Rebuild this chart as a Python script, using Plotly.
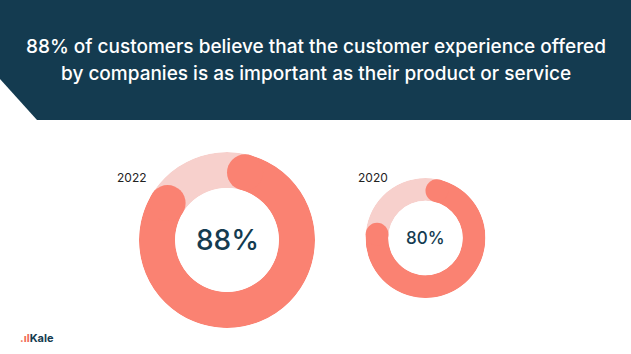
import math
import plotly.graph_objects as go

# ---- data ----
years = ["2022", "2020"]
values = [88, 80]
center_labels = ["88%", "80%"]
title_lines = ["88% of customers believe that the customer experience offered",
               "by companies is as important as their product or service"]

W, H = 631, 354
NAVY = "#143B50"
SALMON = "#FA8272"
LIGHT = "#F7D0CC"

# donut layout: (cx, cy, R, hole) in pixels
donuts = [(227, 240, 88, 0.59), (425.5, 238, 60, 0.62)]
label_sizes = [28, 17]
year_x = [115, 356]

fig = go.Figure()
layout_polars = {}
for i, (yr, v, lab) in enumerate(zip(years, values, center_labels)):
    cx, cy, R, hole = donuts[i]
    pname = "polar" if i == 0 else f"polar{i+1}"
    dom = dict(x=[(cx - R) / W, (cx + R) / W], y=[1 - (cy + R) / H, 1 - (cy - R) / H])
    layout_polars[pname] = dict(
        domain=dom, hole=hole, bgcolor="rgba(0,0,0,0)",
        radialaxis=dict(range=[0, 1], visible=False),
        angularaxis=dict(rotation=90, direction="clockwise", visible=False,
                         showgrid=False, showline=False, ticks=""),
    )
    # background ring (full)
    fig.add_trace(go.Barpolar(r=[1], theta=[180], width=[360], marker_color=LIGHT,
                              marker_line_width=0, subplot=pname, showlegend=False,
                              hoverinfo="skip"))
    # value arc with rounded ends
    mid = (1 + hole) / 2
    cap = math.degrees(math.asin(((1 - hole) / 2) / mid))
    arc = v * 3.6
    a0, a1 = cap, arc - cap
    fig.add_trace(go.Barpolar(r=[1], theta=[(a0 + a1) / 2], width=[a1 - a0],
                              marker_color=SALMON, marker_line_width=0,
                              subplot=pname, showlegend=False, name=yr))
    thick = R * (1 - hole)
    fig.add_trace(go.Scatterpolar(r=[0.5, 0.5], theta=[a0, a1], mode="markers",
                                  marker=dict(size=thick, color=SALMON, line_width=0),
                                  subplot=pname, showlegend=False, hoverinfo="skip"))
    # center label
    fig.add_annotation(x=cx / W, y=1 - cy / H, xref="paper", yref="paper",
                       xanchor="center", yanchor="middle",
                       text=lab, showarrow=False,
                       font=dict(family="Inter, Open Sans", size=label_sizes[i],
                                 color=NAVY, weight=500))
    # year label
    fig.add_annotation(x=year_x[i] / W, y=1 - 177 / H, xref="paper", yref="paper",
                       xanchor="left", yanchor="middle",
                       text=yr, showarrow=False,
                       font=dict(family="Inter, Open Sans", size=12, color="#222"))

# header band
fig.add_shape(type="path", xref="paper", yref="paper",
              path=f"M 0 1 L 1 1 L 1 {1-120/H} L {37/W} {1-120/H} L 0 {1-79/H} Z",
              fillcolor=NAVY, line_width=0, layer="below")
for j, line in enumerate(title_lines):
    fig.add_annotation(x=0.5, y=1 - (47 + 26 * j) / H, xref="paper", yref="paper",
                       xanchor="center", yanchor="middle",
                       text=line, showarrow=False,
                       font=dict(family="Inter, Open Sans", size=19, color="white",
                                 weight=500))

# logo
fig.add_annotation(x=18 / W, y=1 - 338 / H, xref="paper", yref="paper",
                   xanchor="left", yanchor="middle",
                   text="<b><span style='color:#F26A4F'>.ıl</span>Kale</b>", showarrow=False,
                   font=dict(family="Inter, Open Sans", size=11, color=NAVY))

fig.update_layout(width=W, height=H, margin=dict(l=0, r=0, t=0, b=0),
                  paper_bgcolor="white", plot_bgcolor="white", **layout_polars)
fig.write_html("out.html")
